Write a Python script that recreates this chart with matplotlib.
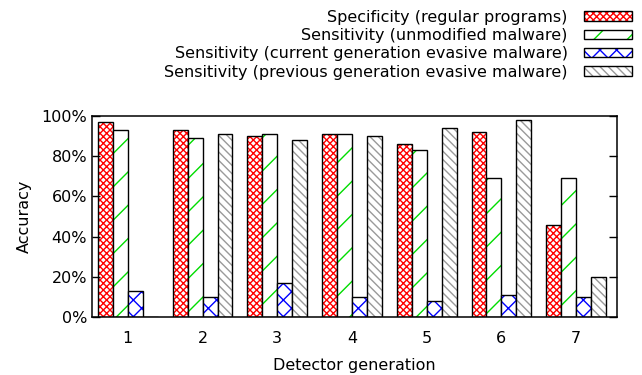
import numpy as np
import matplotlib
matplotlib.use("Agg")
import matplotlib.pyplot as plt
from matplotlib.patches import Patch
from matplotlib.legend_handler import HandlerTuple
from matplotlib.ticker import FuncFormatter

generations = [1, 2, 3, 4, 5, 6, 7]
series_names = [
    "Specificity (regular programs)",
    "Sensitivity (unmodified malware)",
    "Sensitivity (current generation evasive malware)",
    "Sensitivity (previous generation evasive malware)",
]
specificity = [97, 93, 90, 91, 86, 92, 46]
sens_unmodified = [93, 89, 91, 91, 83, 69, 69]
sens_current = [13, 10, 17, 10, 8, 11, 10]
sens_previous = [0, 91, 88, 90, 94, 98, 20]

series = [specificity, sens_unmodified, sens_current, sens_previous]
colors = ["#ff0000", "#00dd00", "#0000ff", "#9a9a9a"]
hatches = ["xxxxx", "/", "xx", "\\\\\\\\"]

plt.rcParams["font.family"] = "DejaVu Sans"
plt.rcParams["hatch.linewidth"] = 1.0

fig = plt.figure(figsize=(6.42, 3.75), dpi=100)
ax = fig.add_axes([0.1433, 0.1547, 0.8175, 0.536])

x = np.array(generations, dtype=float)
width = 0.2
handles = []
for i, (vals, col, h) in enumerate(zip(series, colors, hatches)):
    pos = x + (i - 1.5) * width
    # hatch in the series colour, then a plain black outline on top
    ax.bar(pos, vals, width, facecolor="white", edgecolor=col, hatch=h, linewidth=0)
    ax.bar(pos, vals, width, fill=False, edgecolor="black", linewidth=1.0)
    handles.append((Patch(facecolor="white", edgecolor=col, hatch=h, linewidth=0),
                    Patch(fill=False, edgecolor="black", linewidth=1.0)))

ax.set_xlim(0.52, 7.545)
ax.set_ylim(0, 100)
ax.set_yticks([0, 20, 40, 60, 80, 100])
ax.yaxis.set_major_formatter(FuncFormatter(lambda v, p: f"{int(v)}%"))
ax.set_xticks(generations)
ax.tick_params(axis="y", direction="in", length=6, right=True, labelsize=11.5, width=1)
ax.tick_params(axis="x", length=0, labelsize=11.5, pad=10)
for s in ax.spines.values():
    s.set_linewidth(1.1)

ax.set_ylabel("Accuracy", fontsize=11.5, labelpad=7)
ax.set_xlabel("Detector generation", fontsize=11.5, labelpad=9)

fig.legend(handles, series_names, loc="upper right", bbox_to_anchor=(0.99, 0.982),
           frameon=False, markerfirst=False, fontsize=11.5,
           handler_map={tuple: HandlerTuple(ndivide=1)},
           handlelength=3.0, handleheight=0.55, labelspacing=0.2,
           handletextpad=1.05, borderpad=0.2, borderaxespad=0)

fig.savefig("out.png", dpi=100)
